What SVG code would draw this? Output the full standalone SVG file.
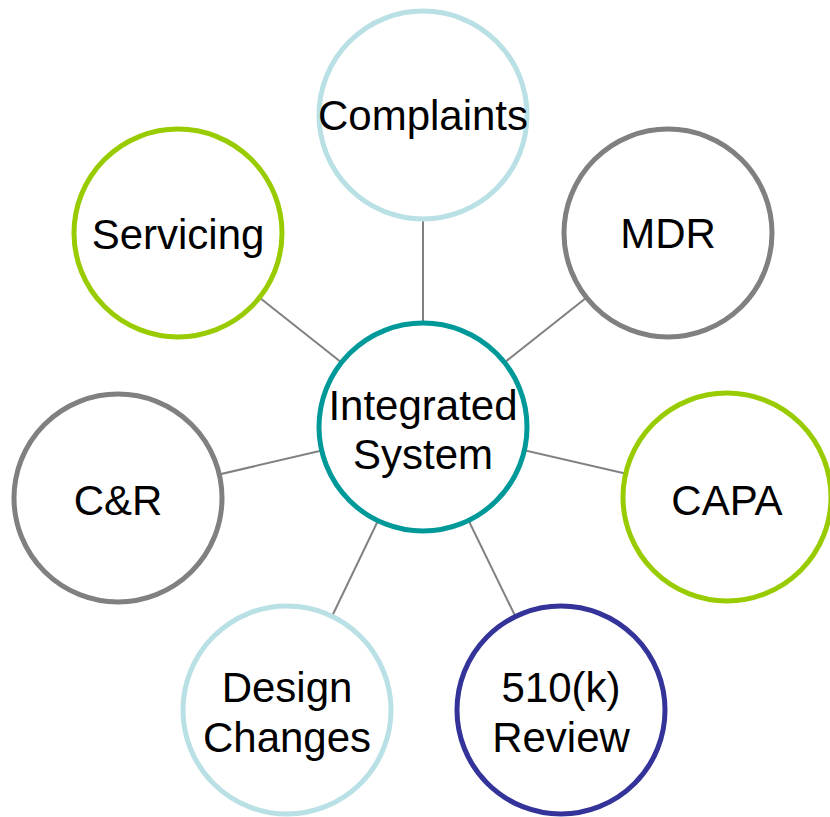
<svg xmlns="http://www.w3.org/2000/svg" width="830" height="817" viewBox="0 0 830 817">
<style>
.c{fill:#fff;stroke-width:5}
.t{font-family:"Liberation Sans",Arial,sans-serif;font-size:42px;fill:#000;text-anchor:middle}
.conn line{stroke:#808080;stroke-width:2}
</style>
<rect width="830" height="817" fill="#fff"/>
<g id="connectors" class="conn">
<line x1="423" y1="427" x2="423" y2="115"/>
<line x1="423" y1="427" x2="668" y2="233"/>
<line x1="423" y1="427" x2="727" y2="497"/>
<line x1="423" y1="427" x2="561" y2="710"/>
<line x1="423" y1="427" x2="287" y2="710"/>
<line x1="423" y1="427" x2="118" y2="498"/>
<line x1="423" y1="427" x2="178" y2="233"/>
</g>
<g id="complaints"><circle class="c" cx="423" cy="115" r="104" stroke="#B9E0E5"/><text class="t" x="423" y="130">Complaints</text></g>
<g id="mdr"><circle class="c" cx="668" cy="233" r="104" stroke="#808080"/><text class="t" x="668" y="248">MDR</text></g>
<g id="capa"><circle class="c" cx="727" cy="497" r="104" stroke="#99CC00"/><text class="t" x="727" y="515">CAPA</text></g>
<g id="review510k"><circle class="c" cx="561" cy="710" r="104" stroke="#333399"/><text class="t" x="561" y="702">510(k)</text><text class="t" x="561" y="752">Review</text></g>
<g id="designchanges"><circle class="c" cx="287" cy="710" r="104" stroke="#B9E0E5"/><text class="t" x="287" y="702">Design</text><text class="t" x="287" y="752">Changes</text></g>
<g id="cr"><circle class="c" cx="118" cy="498" r="104" stroke="#808080"/><text class="t" x="118" y="515">C&amp;R</text></g>
<g id="servicing"><circle class="c" cx="178" cy="233" r="104" stroke="#99CC00"/><text class="t" x="178" y="249">Servicing</text></g>
<g id="integrated"><circle class="c" cx="423" cy="427" r="104" stroke="#009999"/><text class="t" x="423" y="420">Integrated</text><text class="t" x="423" y="469">System</text></g>
</svg>
